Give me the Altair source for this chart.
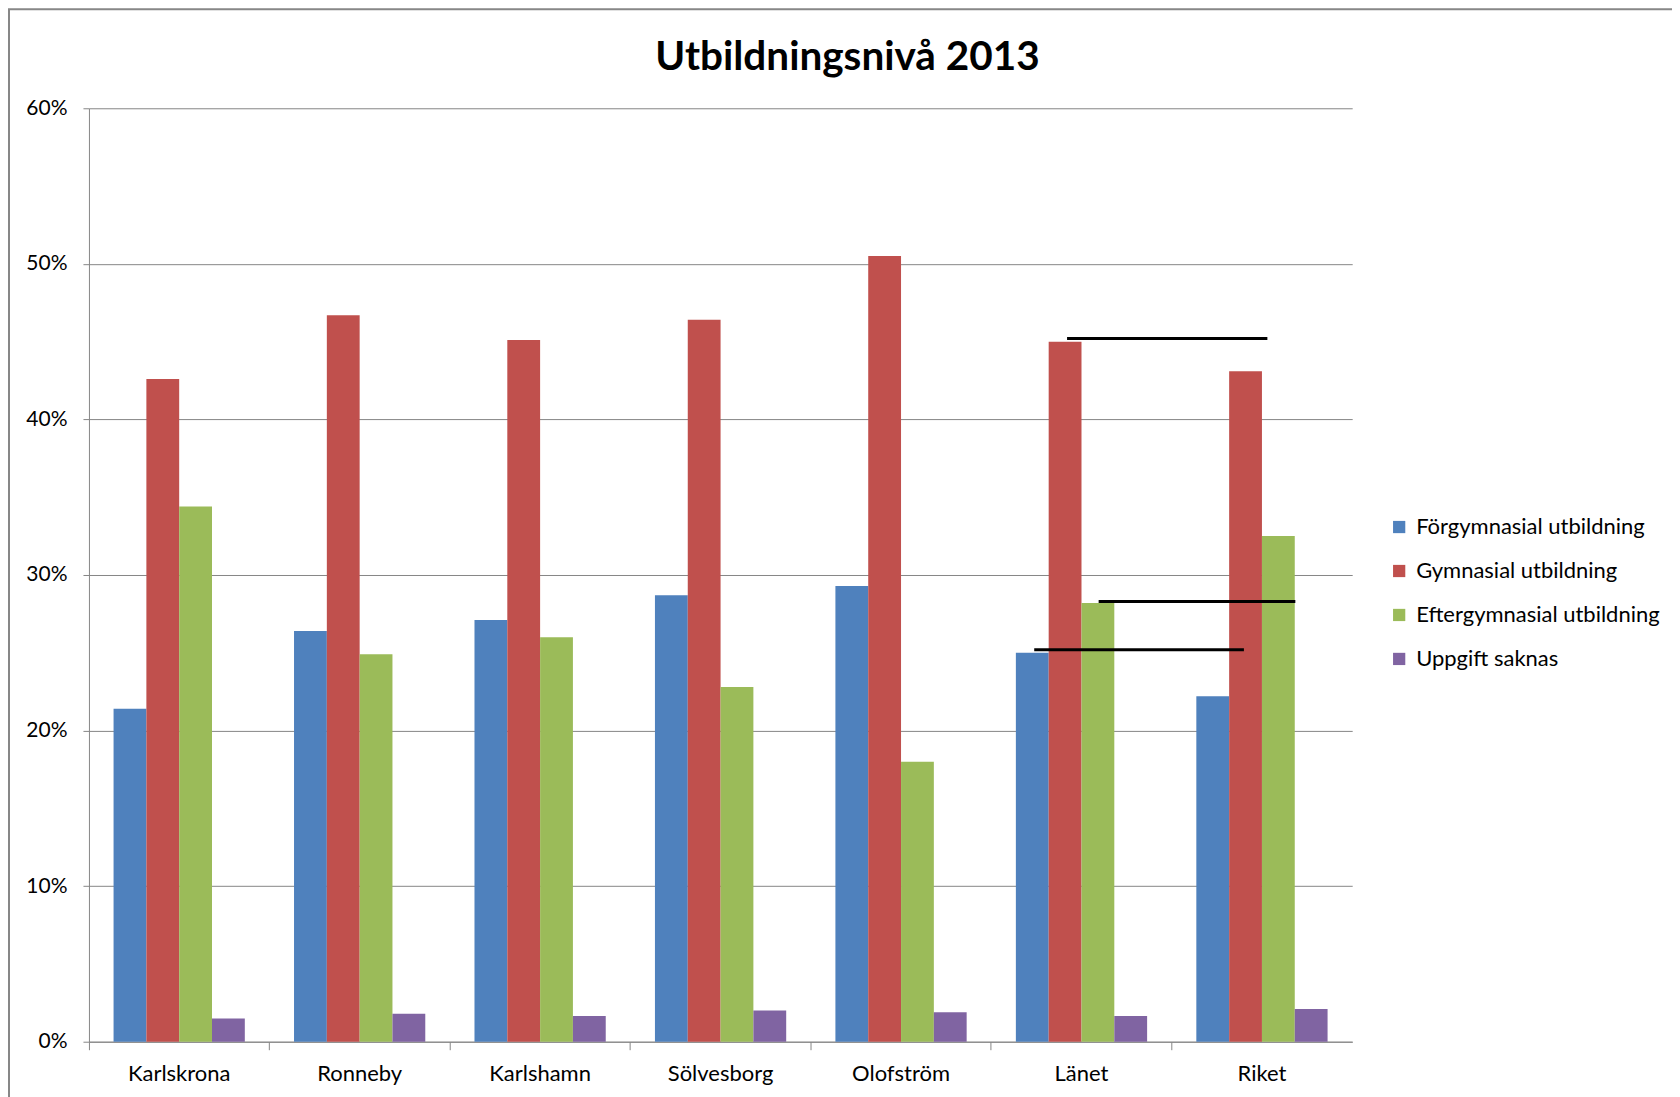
import altair as alt
import pandas as pd

categories = ["Karlskrona", "Ronneby", "Karlshamn", "Sölvesborg", "Olofström", "Länet", "Riket"]
series = ["Förgymnasial utbildning", "Gymnasial utbildning", "Eftergymnasial utbildning", "Uppgift saknas"]
colors = ["#4F81BD", "#C0504D", "#9BBB59", "#8064A2"]

forgymnasial = [0.214, 0.264, 0.271, 0.287, 0.293, 0.250, 0.222]
gymnasial = [0.426, 0.467, 0.451, 0.464, 0.505, 0.450, 0.431]
eftergymnasial = [0.344, 0.249, 0.260, 0.228, 0.180, 0.282, 0.325]
saknas = [0.015, 0.018, 0.0165, 0.020, 0.019, 0.0165, 0.021]

# annotation lines (drawn over Länet / Riket), x in category units
line_y = [0.452, 0.283, 0.252]
line_x_start = [5.42, 5.595, 5.238]
line_x_end = [6.53, 6.685, 6.40]

rows = []
for name, vals in zip(series, [forgymnasial, gymnasial, eftergymnasial, saknas]):
    for c, v in zip(categories, vals):
        rows.append({"Kommun": c, "Serie": name, "Andel": v})
df = pd.DataFrame(rows)
lines = pd.DataFrame({"Andel": line_y, "x0": line_x_start, "x1": line_x_end})

FONT = "Lato"

y_axis = alt.Axis(
    title=None, format=".0%", values=[0, 0.1, 0.2, 0.3, 0.4, 0.5, 0.6],
    grid=True, gridColor="#868686", gridWidth=1,
    domainColor="#868686", tickColor="#868686", tickSize=6,
    labelFontSize=21, labelFont=FONT, labelColor="#000000", labelPadding=16,
)
y_scale = alt.Scale(domain=[0, 0.6], nice=False)

bars = alt.Chart(df).mark_bar().encode(
    x=alt.X(
        "Kommun:N", sort=categories,
        scale=alt.Scale(paddingInner=0.2727, paddingOuter=0.1364),
        axis=alt.Axis(
            title=None, labelAngle=0, labelFontSize=22, labelFont=FONT,
            labelColor="#000000", labelPadding=14, domainColor="#868686",
            tickColor="#868686", tickSize=8, bandPosition=-0.1875, grid=False,
        ),
    ),
    xOffset=alt.XOffset("Serie:N", sort=series, scale=alt.Scale(paddingInner=0, paddingOuter=0)),
    y=alt.Y("Andel:Q", scale=y_scale, axis=y_axis),
    color=alt.Color(
        "Serie:N", sort=series,
        scale=alt.Scale(domain=series, range=colors),
        legend=alt.Legend(
            title=None, orient="none", legendX=1300, legendY=408,
            symbolType="square", symbolSize=150, symbolStrokeWidth=0,
            labelFontSize=22, labelFont=FONT, labelColor="#000000",
            labelLimit=0, rowPadding=22, labelOffset=6,
        ),
    ),
)

rules = alt.Chart(lines).mark_rule(color="#000000", strokeWidth=3).encode(
    x=alt.X("x0:Q", scale=alt.Scale(domain=[0, 7], nice=False), axis=None),
    x2="x1:Q",
    y=alt.Y("Andel:Q", scale=y_scale),
)

# outer chart-area frame (decoration)
frame = alt.Chart(pd.DataFrame({"f": [0]})).mark_rect(
    filled=False, stroke="#878787", strokeWidth=2
).encode(
    x=alt.value(-80), y=alt.value(-99), x2=alt.value(1800), y2=alt.value(1300)
)

chart = alt.layer(bars, rules, frame).resolve_scale(x="independent").properties(
    width=1264,
    height=934,
    background="#ffffff",
    autosize=alt.AutoSizeParams(type="none"),
    padding={"left": 81, "top": 100, "right": 320, "bottom": 80},
    title=alt.TitleParams(
        "Utbildningsnivå 2013", font=FONT, fontSize=40.5, fontWeight="bold",
        color="#000000", anchor="middle", dx=127, offset=-70,
    ),
).configure_view(stroke="transparent", strokeWidth=0)

chart.save("out.html", embed_options={"renderer": "svg", "actions": False})
